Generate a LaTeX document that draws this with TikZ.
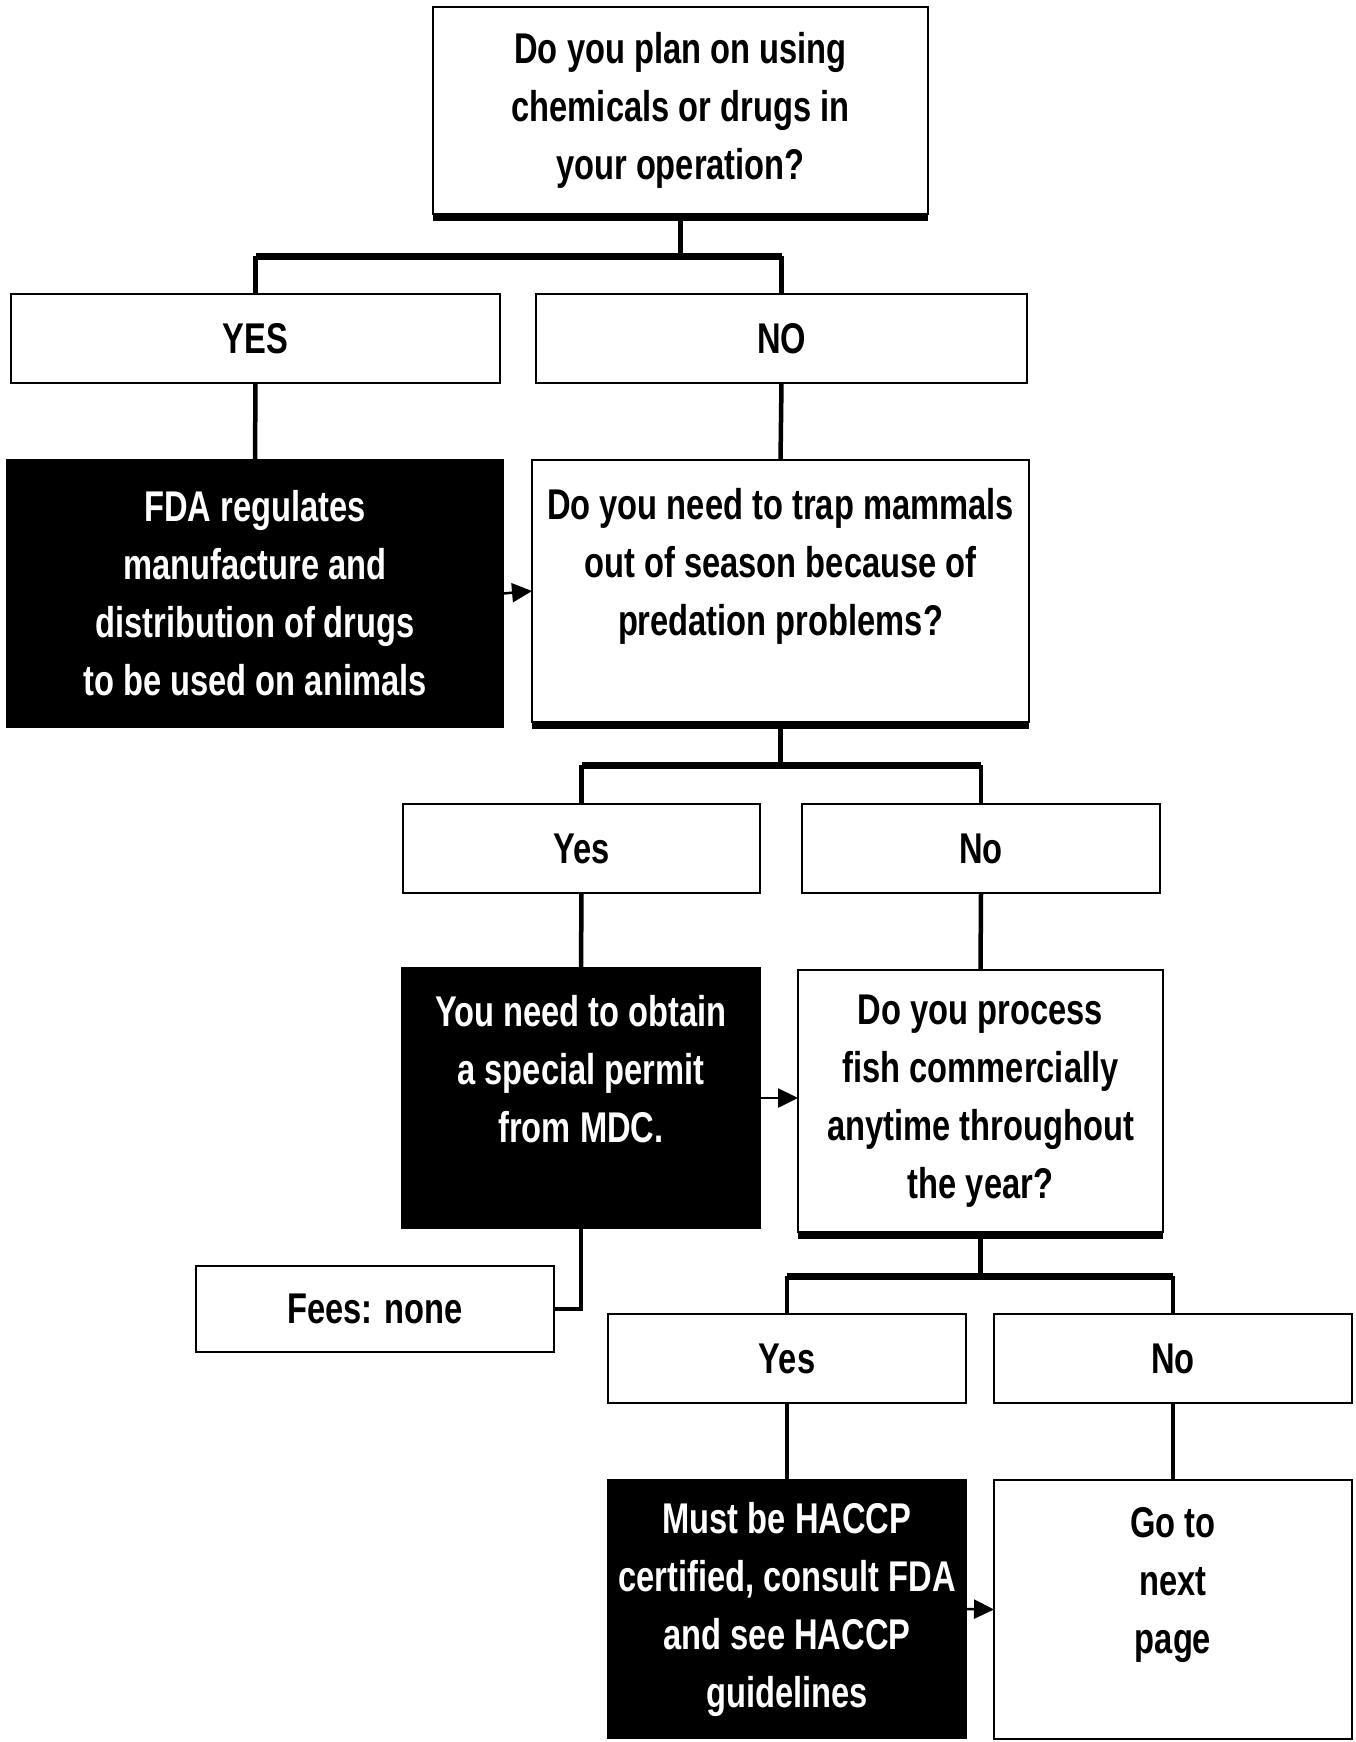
\documentclass[tikz,border=0pt]{standalone}
\usepackage{fontspec}
\newfontfamily\nar{Liberation Sans}[FakeStretch=0.76]
\usetikzlibrary{arrows.meta}
\begin{document}
\begin{tikzpicture}[x=1pt,y=-1pt,
  font=\nar\bfseries\fontsize{43}{58}\selectfont,
  box/.style={draw, line width=2.5pt, rectangle, inner sep=0pt, outer sep=0pt, anchor=north west, align=center, fill=white},
  blk/.style={box, fill=black, text=white},
  conn/.style={line width=4.5pt},
  hbar/.style={line width=7pt},
  arr/.style={line width=2.5pt, -{Triangle[length=20pt,width=19pt]}},
  thickb/.style={line width=8pt}
]
\useasboundingbox (0,0) rectangle (1356,1742);
\fill[white] (0,0) rectangle (1356,1742);

\node[box, minimum width=495pt, minimum height=207pt] (q1) at (433,7)
  {Do you plan on using\\chemicals or drugs in\\your operation?};
\node[box, minimum width=489pt, minimum height=89pt] (yes1) at (11,294) {YES};
\node[box, minimum width=491pt, minimum height=89pt] (no1) at (536,294) {NO};
\node[blk, minimum width=496pt, minimum height=267pt] (fda) at (7,460)
  {FDA regulates\\manufacture and\\distribution of drugs\\to be used on animals};
\node[box, minimum width=497pt, minimum height=262pt] (q2) at (532,460)
  {Do you need to trap mammals\\out of season because of\\predation problems?\\\mbox{}};
\node[box, minimum width=357pt, minimum height=89pt] (yes2) at (403,804) {Yes};
\node[box, minimum width=358pt, minimum height=89pt] (no2) at (802,804) {No};
\node[blk, minimum width=358pt, minimum height=260pt] (mdc) at (402,968)
  {You need to obtain\\a special permit\\from MDC.\\\mbox{}};
\node[box, minimum width=365pt, minimum height=262pt] (q3) at (798,970)
  {Do you process\\fish commercially\\anytime throughout\\the year?};
\node[box, minimum width=358pt, minimum height=86pt] (fees) at (196,1266) {Fees: none};
\node[box, minimum width=358pt, minimum height=89pt] (yes3) at (608,1314) {Yes};
\node[box, minimum width=358pt, minimum height=89pt] (no3) at (994,1314) {No};
\node[blk, minimum width=358pt, minimum height=258pt] (haccp) at (608,1480)
  {Must be HACCP\\certified, consult FDA\\and see HACCP\\guidelines};
\node[box, minimum width=358pt, minimum height=259pt] (go) at (994,1480)
  {Go to\\next\\page\\\mbox{}};

% thick bottoms of question boxes
\draw[thickb] ([yshift=-3pt]q1.south west) -- ([yshift=-3pt]q1.south east);
\draw[thickb] ([yshift=-3pt]q2.south west) -- ([yshift=-3pt]q2.south east);
\draw[thickb] ([yshift=-3pt]q3.south west) -- ([yshift=-3pt]q3.south east);

% branch points
\coordinate (b1) at (q1.south |- 0,256);
\coordinate (b2) at (q2.south |- 0,765);
\coordinate (b3) at (q3.south |- 0,1276);

\draw[conn] ([yshift=-6pt]q1.south) -- (b1);
\draw[conn] (yes1.north) -- (yes1.north |- b1);
\draw[conn] (no1.north) -- (no1.north |- b1);
\draw[hbar] (yes1.north |- b1) -- (no1.north |- b1);

\draw[conn] (yes1.south) -- (fda.north);
\draw[conn] (no1.south) -- (q2.north);
\draw[arr] (fda.east) -- (q2.west);

\draw[conn] ([yshift=-6pt]q2.south) -- (b2);
\draw[conn] (yes2.north) -- (yes2.north |- b2);
\draw[conn] (no2.north) -- (no2.north |- b2);
\draw[hbar] (yes2.north |- b2) -- (no2.north |- b2);

\draw[conn] (yes2.south) -- (mdc.north);
\draw[conn] (no2.south) -- (q3.north);
\draw[arr] (mdc.east) -- (q3.west |- mdc.east);

\draw[conn] (mdc.south) |- (fees.east);

\draw[conn] ([yshift=-6pt]q3.south) -- (b3);
\draw[conn] (yes3.north) -- (yes3.north |- b3);
\draw[conn] (no3.north) -- (no3.north |- b3);
\draw[hbar] (yes3.north |- b3) -- (no3.north |- b3);

\draw[conn] (yes3.south) -- (haccp.north);
\draw[conn] (no3.south) -- (go.north);
\draw[arr] (haccp.east) -- (go.west);
\end{tikzpicture}
\end{document}
